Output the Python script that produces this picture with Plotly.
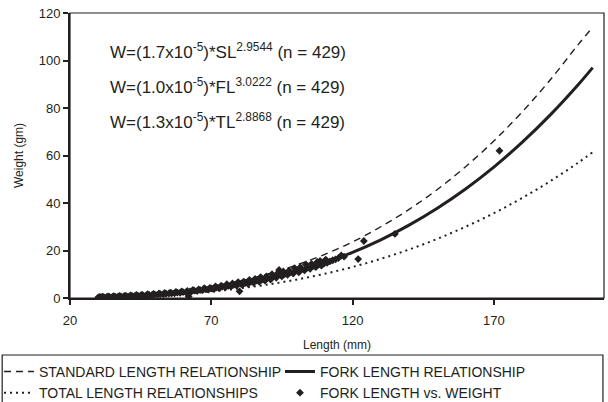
import plotly.graph_objects as go

# Fitted relationship curves
curve_x = [30, 40, 50, 60, 70, 80, 90, 100, 110, 120, 130, 140, 150, 160, 170, 180, 190, 200, 205]
sl_y = [0.39, 0.92, 1.78, 3.05, 4.81, 7.13, 10.1, 13.8, 18.3, 23.6, 30.0, 37.3, 45.7, 55.3, 66.1, 78.3, 91.9, 106.9, 114.0]
fl_y = [0.29, 0.70, 1.37, 2.37, 3.78, 5.65, 8.06, 11.09, 14.79, 19.24, 24.5, 30.7, 37.8, 45.9, 55.1, 65.5, 77.1, 90.0, 97.0]
tl_y = [0.24, 0.55, 1.04, 1.77, 2.76, 4.05, 5.69, 7.72, 10.16, 13.07, 16.5, 20.4, 24.9, 30.0, 35.7, 42.1, 49.2, 57.1, 61.4]

# Observed fork length vs weight
obs_x = [30, 31, 32, 33, 34, 35, 36, 37, 38, 39, 40, 41, 42, 43, 44, 45, 46, 47, 48, 49,
         50, 51, 52, 53, 54, 55, 56, 57, 58, 59, 60, 61, 62, 62.5, 63, 64, 65, 66, 67, 68,
         69, 70, 71, 72, 73, 74, 75, 76, 77, 78, 79, 80, 80.5, 81, 82, 83, 84, 85, 86, 87,
         88, 89, 90, 91, 92, 93, 94, 94.5, 95, 96, 97, 98, 99, 100, 101, 102, 103, 104, 105, 106,
         107, 108, 109, 110, 112, 114, 117, 122, 124, 135, 172,
         30.5, 31.5, 33.5, 35.5, 37.5, 39.5, 41.5, 43.5, 45.5, 47.5, 49.5, 51.5, 53.5, 55.5, 57.5, 59.5,
         61.5, 63.5, 65.5, 67.5, 69.5, 71.5, 73.5, 75.5, 77.5, 79.5, 81.5, 83.5, 85.5, 87.5, 89.5, 91.5,
         93.5, 95.5, 97.5, 99.5, 101.5, 103.5, 105.5, 107.5, 108.5, 110.5, 111, 113, 115, 116]
obs_y = [0.3, 0.35, 0.4, 0.45, 0.5, 0.5, 0.6, 0.55, 0.7, 0.7, 0.8, 0.75, 0.9, 0.9, 1.0, 1.1, 1.0, 1.2, 1.3, 1.2,
         1.5, 1.4, 1.6, 1.6, 1.8, 1.9, 2.0, 2.0, 2.3, 2.2, 2.5, 2.4, 0.6, 2.8, 2.7, 3.1, 2.9, 3.4, 3.3, 3.7,
         3.5, 4.0, 3.8, 4.4, 4.2, 4.8, 4.5, 5.1, 4.8, 5.5, 5.2, 2.8, 6.0, 5.5, 6.3, 6.0, 6.8, 6.4, 7.3, 6.8,
         7.8, 7.3, 8.5, 7.8, 9.1, 8.5, 11.8, 9.6, 9.1, 10.1, 9.8, 10.8, 10.3, 11.5, 10.8, 12.2, 11.6, 12.8, 12.3, 13.5,
         13.0, 14.1, 13.6, 14.6, 15.4, 16.3, 17.4, 16.4, 24.0, 27.0, 62.0,
         0.5, 0.6, 0.7, 0.8, 0.9, 1.0, 1.1, 1.3, 1.4, 1.6, 1.7, 1.9, 2.1, 2.3, 2.6, 2.8,
         3.0, 3.4, 3.6, 4.1, 4.3, 4.9, 5.2, 5.8, 6.1, 6.7, 6.9, 7.6, 8.0, 8.8, 9.1, 10.0,
         10.4, 11.2, 11.5, 12.6, 13.0, 14.1, 14.4, 15.2, 15.6, 16.2, 14.8, 15.9, 16.8, 17.9]

x_ticks = [20, 70, 120, 170]
y_ticks = [0, 20, 40, 60, 80, 100, 120]

equations = [
    "W=(1.7x10<sup>-5</sup>)*SL<sup>2.9544</sup> (n = 429)",
    "W=(1.0x10<sup>-5</sup>)*FL<sup>3.0222</sup> (n = 429)",
    "W=(1.3x10<sup>-5</sup>)*TL<sup>2.8868</sup> (n = 429)",
]

INK = "#231f20"
FONT = "Liberation Sans, Arial, sans-serif"

fig = go.Figure()
fig.add_trace(go.Scatter(x=curve_x, y=sl_y, mode="lines", line_shape="spline",
                         name="STANDARD LENGTH RELATIONSHIP",
                         line=dict(color=INK, width=1.4, dash="7px,5px")))
fig.add_trace(go.Scatter(x=curve_x, y=fl_y, mode="lines", line_shape="spline",
                         name="FORK LENGTH RELATIONSHIP",
                         line=dict(color=INK, width=3)))
fig.add_trace(go.Scatter(x=curve_x, y=tl_y, mode="lines", line_shape="spline",
                         name="TOTAL LENGTH RELATIONSHIPS",
                         line=dict(color=INK, width=2, dash="2px,4px")))
fig.add_trace(go.Scatter(x=obs_x, y=obs_y, mode="markers",
                         name="FORK LENGTH vs. WEIGHT",
                         marker=dict(symbol="diamond", size=6, color=INK)))

for i, t in enumerate(equations):
    fig.add_annotation(text=t, xref="paper", yref="paper", x=0.071,
                       y=[0.867, 0.744, 0.621][i], xanchor="left", yanchor="middle",
                       showarrow=False, font=dict(size=17, color=INK, family=FONT))

# plot frame (top/right thin border) and legend box
fig.add_shape(type="rect", xref="paper", yref="paper", x0=0, x1=1, y0=0, y1=1,
              line=dict(color=INK, width=1.2), layer="above")
fig.add_shape(type="rect", xref="paper", yref="paper", x0=-0.127, x1=0.998,
              y0=-0.4, y1=-0.2, line=dict(color=INK, width=1.2))

fig.update_layout(
    width=608, height=402,
    margin=dict(l=70, r=4, t=13, b=104, autoexpand=False),
    paper_bgcolor="white", plot_bgcolor="white",
    font=dict(family=FONT, color=INK, size=13),
    showlegend=True,
    legend=dict(orientation="h", x=-0.133, xanchor="left", y=-0.203, yanchor="top",
                entrywidth=236, entrywidthmode="pixels", font=dict(size=14, color=INK),
                bgcolor="rgba(0,0,0,0)", borderwidth=0, tracegroupgap=0, itemwidth=30),
    xaxis=dict(range=[20, 209], tickvals=x_ticks, ticks="outside", ticklen=5, tickwidth=1.5,
               tickcolor=INK, showline=True, linecolor=INK, linewidth=2, showgrid=False,
               zeroline=False, tickfont=dict(size=13), ticklabelstandoff=4,
               title=dict(text="Length (mm)", font=dict(size=12), standoff=14)),
    yaxis=dict(range=[0, 120], tickvals=y_ticks, ticks="outside", ticklen=5, tickwidth=1.5,
               tickcolor=INK, showline=True, linecolor=INK, linewidth=2, showgrid=False,
               zeroline=False, tickfont=dict(size=13),
               title=dict(text="Weight (gm)", font=dict(size=12), standoff=12)),
)

fig.write_html("out.html")
